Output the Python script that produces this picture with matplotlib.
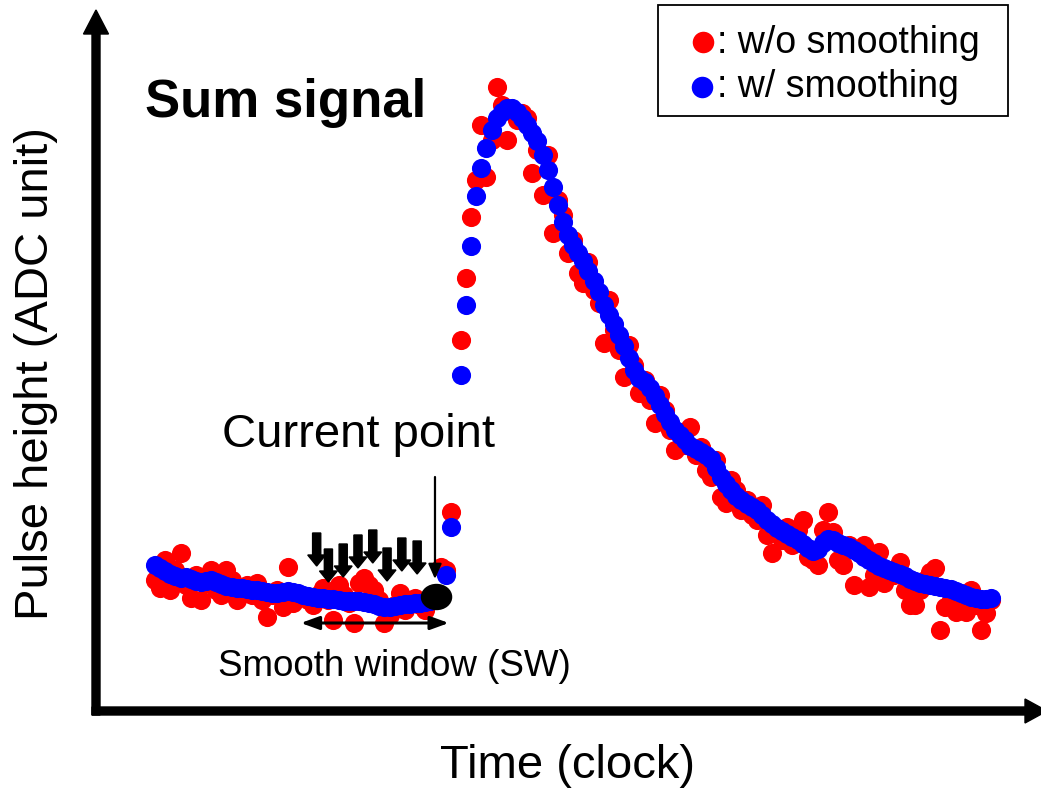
import numpy as np
import matplotlib
matplotlib.use('Agg')
import matplotlib.pyplot as plt
from matplotlib.patches import FancyArrow, Ellipse, Rectangle
from matplotlib.lines import Line2D

plt.rcParams['font.family'] = ['Liberation Sans', 'DejaVu Sans']

nan = np.nan

# pulse height (ADC unit), one sample per clock
raw = [133, 125, 153, 123, 143, 160, 128, 115, 138, 113,
       130, 143, 123, 118, 143, 133, 113, 123, 128, 118,
       130, 113, 96, 118, 123, 106, 146, 110, 118, 116,
       113, 108, 118, 125, 113, 93, 128, 118, 110, 90,
       130, 135, 128, 123, 113, 90, 98, 108, 120, 103,
       113, 115, 108, 103, 113, 115, 146, 143, 201, nan,
       373, 435, 496, 533, 588, 536, 573, 626, 608, 573,
       603, 593, 600, 595, 540, 563, 518, 558, 480, 513,
       498, 460, 473, 440, 430, 451, 423, 410, 370, 413,
       383, 363, 336, 368, 348, 320, 333, 313, 290, 318,
       303, 283, 263, 281, 268, 286, 258, 266, 243, 236,
       253, 216, 210, 233, 223, 203, 213, 198, 193, 208,
       178, 160, 183, 173, 186, 168, 183, 193, 156, 153,
       148, 183, 201, 181, 153, 148, 168, 128, 161, 168,
       126, 138, 161, 130, 143, 138, 151, 123, 108, 108,
       123, 133, 141, 145, 83, 106, 113, 101, 113, 101,
       123, 108, 83, 100, 113]

smoothed = [148, 145, 142, 139, 137, 135, 136, 134, 132, 131,
            132, 133, 131, 129, 127, 126, 125, 125, 124, 123,
            123, 122, 121, 120, 120, 121, 122, 121, 120, 118,
            117, 116, 115, 115, 114, 114, 113, 112, 112, 112,
            112, 111, 110, 109, 107, 106, 106, 107, 108, 109,
            109, 110, 110, 111, 112, 114, 116, 138, 186, nan,
            338, 408, 467, 517, 545, 565, 583, 595, 601, 605,
            605, 601, 595, 588, 580, 572, 558, 543, 526, 508,
            491, 478, 468, 460, 452, 442, 432, 421, 408, 398,
            389, 378, 367, 355, 343, 335, 331, 325, 317, 308,
            299, 291, 283, 278, 273, 267, 264, 261, 258, 254,
            245, 236, 229, 223, 217, 213, 209, 206, 203, 198,
            193, 189, 185, 182, 179, 176, 173, 169, 165, 162,
            164, 170, 174, 173, 170, 168, 166, 163, 160, 156,
            153, 150, 147, 145, 143, 141, 139, 137, 134, 132,
            130, 129, 128, 127, 126, 125, 124, 122, 120, 118,
            116, 115, 114, 114, 115]

clock = np.arange(len(raw))

# smoothing window: clocks marked by the small arrows and their tip heights
sw_clock = [31.7, 34.0, 36.9, 39.8, 42.7, 45.5, 48.4, 51.4]
sw_tip = [147, 131, 136, 145, 150, 132, 142, 139]
current_clock = 55.2
current_height = 116

W, H = 1041, 789
fig = plt.figure(figsize=(W / 100, H / 100), dpi=100)
ax = fig.add_axes([96 / W, 78 / H, 945 / W, 701 / H])
ax.set_xlim(-11.57, 173.73)
ax.set_ylim(2, 703)
ax.axis('off')

# axes drawn as thick arrows
ax.add_patch(FancyArrow(0, -4 / 701, 0, 1 + 4 / 701, width=8 / 945, head_width=25 / 945,
                        head_length=24 / 701, length_includes_head=True, color='k',
                        transform=ax.transAxes, clip_on=False))
ax.add_patch(FancyArrow(-4 / 945, 0, 1 + 10 / 945, 0, width=8 / 701, head_width=24 / 701,
                        head_length=22 / 945, length_includes_head=True, color='k',
                        transform=ax.transAxes, clip_on=False))

ax.scatter(clock, raw, s=190, c='red', linewidths=0, zorder=2)
ax.scatter(clock, smoothed, s=190, c='blue', linewidths=0, zorder=3)

# current point and smoothing window annotations
ax.add_patch(Ellipse((current_clock, current_height), 5.9, 25, color='k', zorder=5))
for c, t in zip(sw_clock, sw_tip):
    ax.add_patch(FancyArrow(c, t + 33, 0, -33, width=1.6, head_width=3.5, head_length=11,
                            length_includes_head=True, color='k', zorder=6))
ax.annotate('', xy=(54.9, 134), xytext=(54.9, 236),
            arrowprops=dict(arrowstyle='-|>,head_length=0.45,head_width=0.2', lw=1.6,
                            color='k', mutation_scale=20, shrinkA=0, shrinkB=0), zorder=6)
ax.annotate('', xy=(28.6, 90), xytext=(57.6, 90),
            arrowprops=dict(arrowstyle='<|-|>,head_length=0.55,head_width=0.2', lw=2.2,
                            color='k', mutation_scale=20, shrinkA=0, shrinkB=0), zorder=6)

fig.text(222 / W, 1 - 447 / H, 'Current point', fontsize=34, va='baseline')
fig.text(218 / W, 1 - 676 / H, 'Smooth window (SW)', fontsize=26.5, va='baseline')
fig.text(145 / W, 1 - 117 / H, 'Sum signal', fontsize=38, fontweight='bold', va='baseline')
fig.text(440 / W, 1 - 778 / H, 'Time (clock)', fontsize=34, va='baseline')
fig.text(48 / W, 1 - 374 / H, 'Pulse height (ADC unit)', fontsize=34, rotation=90,
         ha='center', va='baseline', rotation_mode='anchor')

# legend
fig.add_artist(Rectangle((658 / W, 1 - 116 / H), 350 / W, 111 / H, fill=False,
                         lw=1.3, edgecolor='k', transform=fig.transFigure))
fig.add_artist(Line2D([703 / W], [1 - 42 / H], marker='o', ms=15.5, color='red',
                      markeredgewidth=0, transform=fig.transFigure))
fig.add_artist(Line2D([702 / W], [1 - 87 / H], marker='o', ms=15.5, color='blue',
                      markeredgewidth=0, transform=fig.transFigure))
fig.text(717 / W, 1 - 53 / H, ': w/o smoothing', fontsize=27, va='baseline')
fig.text(717 / W, 1 - 97 / H, ': w/ smoothing', fontsize=27, va='baseline')

fig.savefig('out.png', dpi=100)
